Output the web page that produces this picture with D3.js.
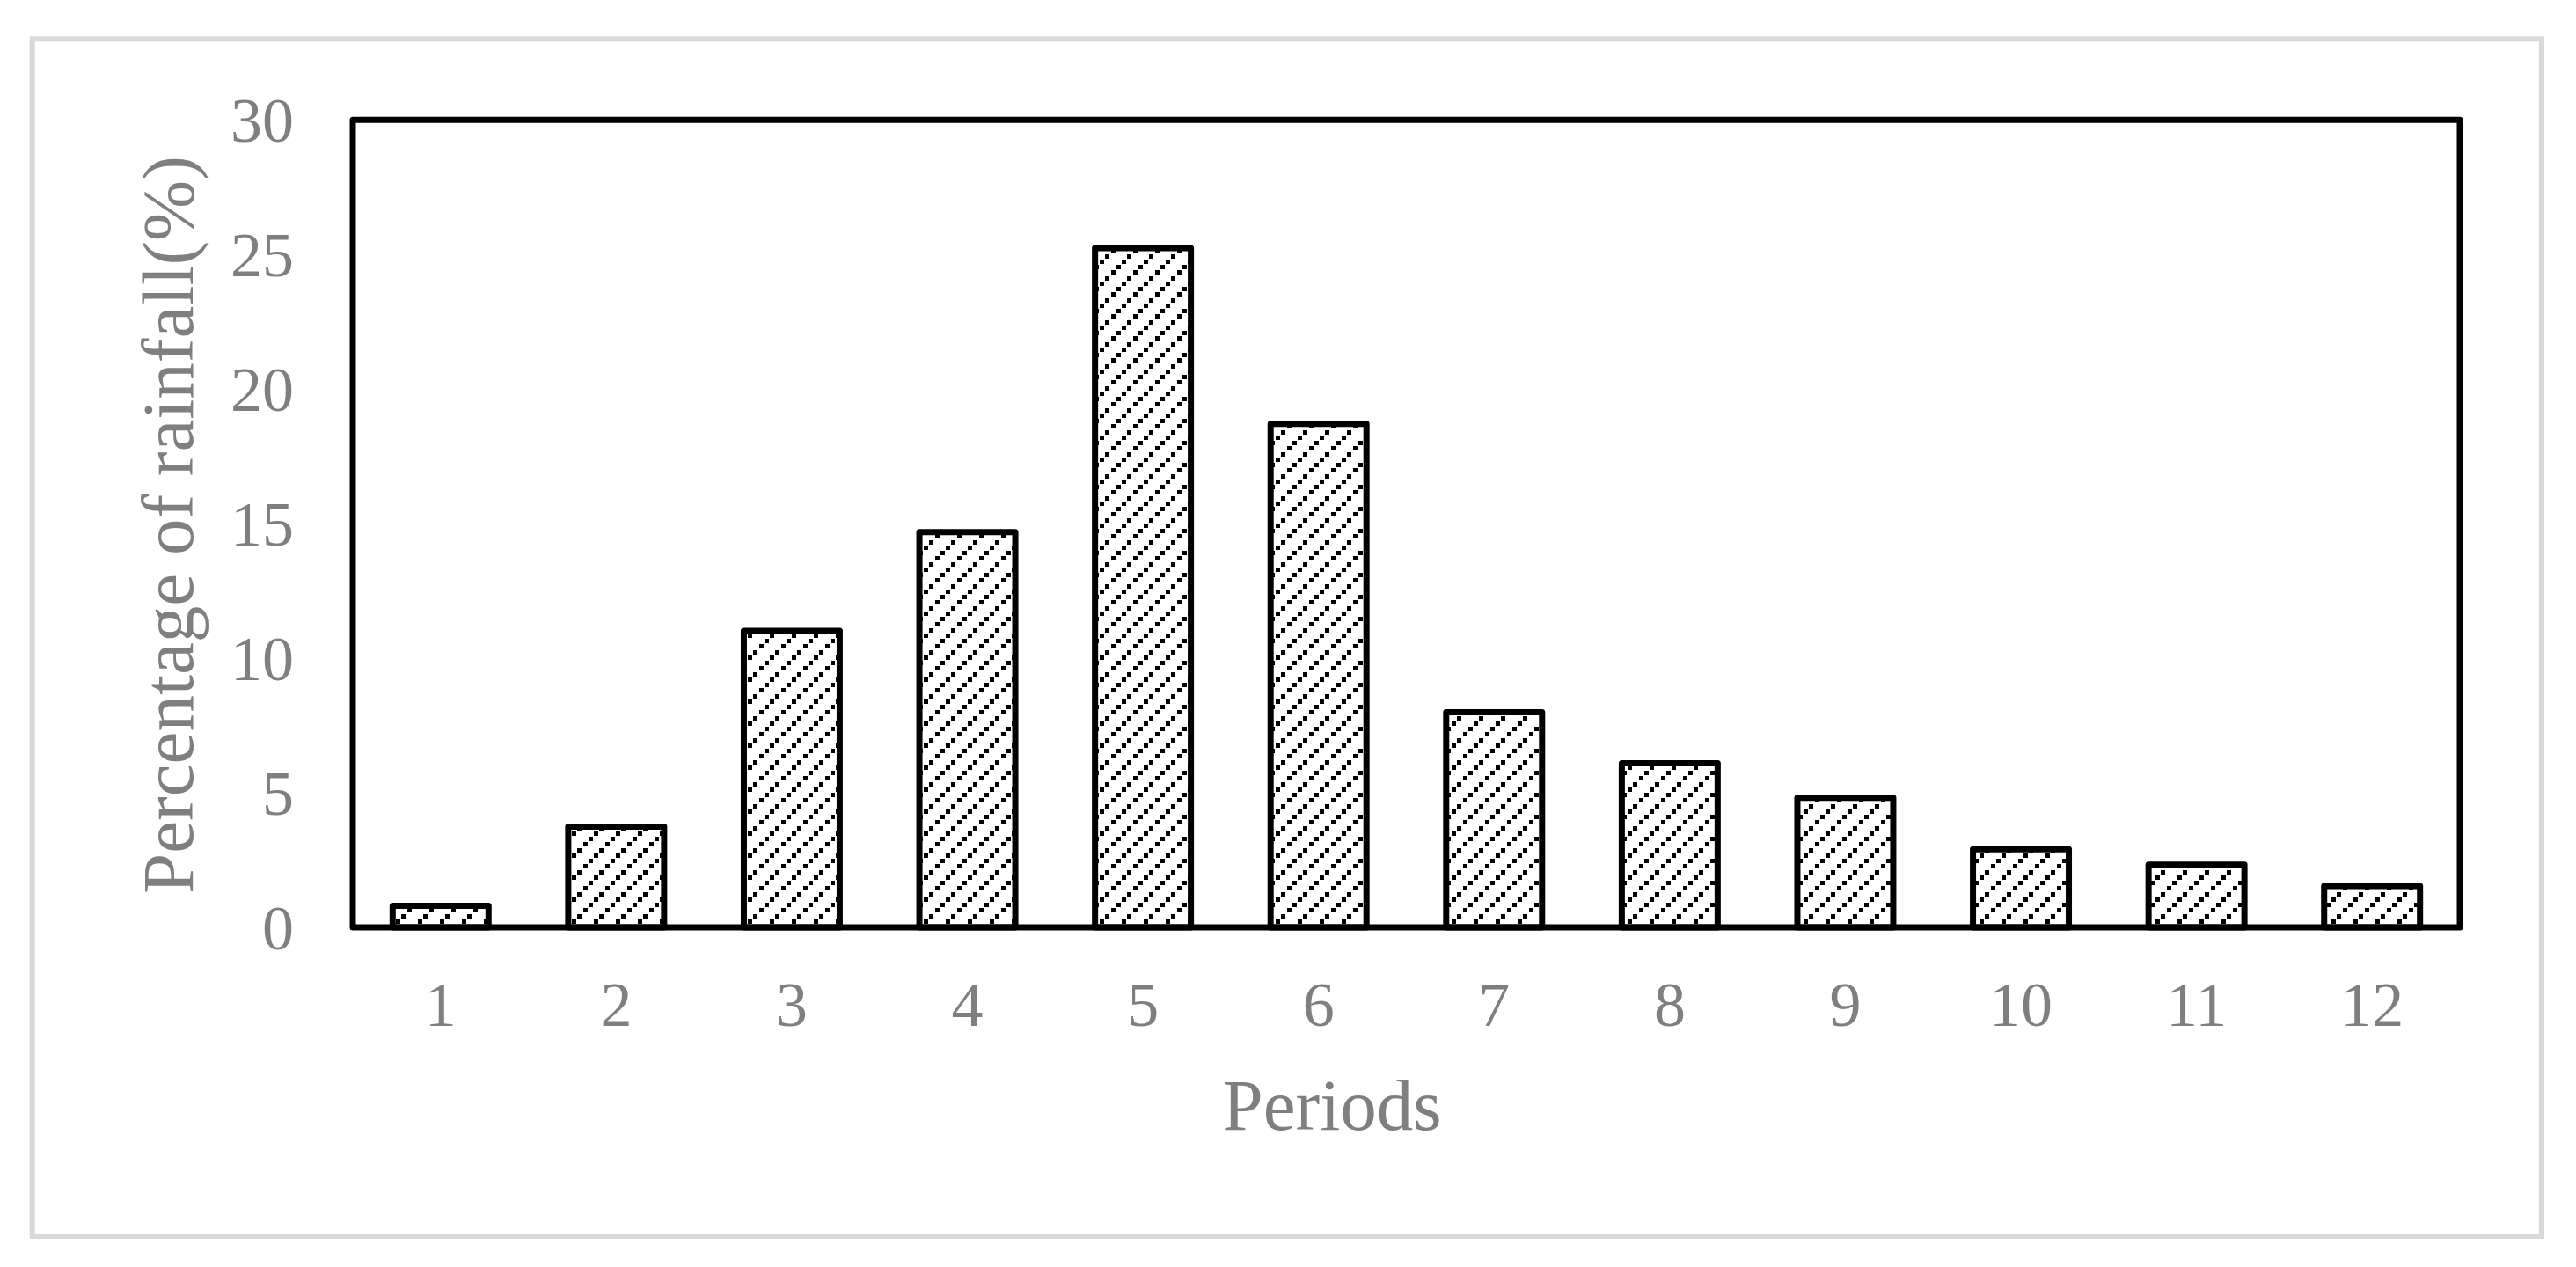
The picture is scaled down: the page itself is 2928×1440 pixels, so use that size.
<!DOCTYPE html>
<html>
<head>
<meta charset="utf-8">
<script src="https://cdn.jsdelivr.net/npm/d3@7"></script>
<style>
  html, body { margin: 0; padding: 0; background: #ffffff; }
  svg { display: block; }
</style>
</head>
<body>
<script>
const periods = ["1","2","3","4","5","6","7","8","9","10","11","12"];
const rainfallPct = [0.80, 3.74, 11.02, 14.69, 25.24, 18.71, 7.99, 6.10, 4.81, 2.90, 2.33, 1.54];
const yTicks = [0, 5, 10, 15, 20, 25, 30];
const xTitle = "Periods";
const yTitle = "Percentage of rainfall(%)";

const W = 2928, H = 1440;
const plot = { left: 401, right: 2796, top: 136.3, bottom: 1054 };
const textColor = "#7f7f7f";
const fontFam = "'Liberation Serif', 'Times New Roman', serif";

const svg = d3.select("body").append("svg")
  .attr("width", W).attr("height", H)
  .attr("viewBox", `0 0 ${W} ${H}`);

svg.append("rect").attr("width", W).attr("height", H).attr("fill", "#ffffff");

// outer chart-area border
svg.append("rect")
  .attr("x", 36.7).attr("y", 44.3)
  .attr("width", 2889 - 36.7).attr("height", 1405 - 44.3)
  .attr("fill", "none").attr("stroke", "#d9d9d9").attr("stroke-width", 6);

// hatch pattern
const defs = svg.append("defs");
const pat = defs.append("pattern")
  .attr("id", "hatch").attr("patternUnits", "userSpaceOnUse")
  .attr("width", 25).attr("height", 25);
pat.append("rect").attr("width", 25).attr("height", 25).attr("fill", "#ffffff");
[[0, 20], [6, 14], [13, 7], [19, 1]].forEach(([dx, dy]) => {
  pat.append("rect").attr("x", dx).attr("y", dy)
    .attr("width", 5).attr("height", 5).attr("fill", "#000000")
    .attr("shape-rendering", "crispEdges");
});

const x = d3.scaleBand()
  .domain(periods)
  .range([plot.left, plot.right])
  .paddingInner(0.454)
  .paddingOuter(0.227);

const y = d3.scaleLinear().domain([0, 30]).range([plot.bottom, plot.top]);

// bars
svg.append("g").selectAll("rect")
  .data(periods.map((p, i) => ({ p, v: rainfallPct[i] })))
  .join("rect")
  .attr("x", d => x(d.p))
  .attr("y", d => y(d.v))
  .attr("width", x.bandwidth())
  .attr("height", d => y(0) - y(d.v))
  .attr("fill", "url(#hatch)")
  .attr("stroke", "#000000")
  .attr("stroke-width", 7)
  .attr("stroke-linejoin", "round");

// plot frame
svg.append("rect")
  .attr("x", plot.left).attr("y", plot.top)
  .attr("width", plot.right - plot.left).attr("height", plot.bottom - plot.top)
  .attr("fill", "none").attr("stroke", "#000000").attr("stroke-width", 7)
  .attr("stroke-linejoin", "round");

// y axis
const yAxis = svg.append("g")
  .attr("transform", `translate(${plot.left},0)`)
  .call(d3.axisLeft(y).tickValues(yTicks).tickSize(0).tickPadding(67).tickFormat(d3.format("d")));
yAxis.select(".domain").remove();
yAxis.selectAll("text")
  .attr("dy", "0.34em")
  .attr("fill", textColor)
  .style("font-family", fontFam)
  .style("font-size", "72px");

// x axis
const xAxis = svg.append("g")
  .attr("transform", `translate(0,${plot.bottom})`)
  .call(d3.axisBottom(x).tickSize(0).tickPadding(61));
xAxis.select(".domain").remove();
xAxis.selectAll("text")
  .attr("fill", textColor)
  .style("font-family", fontFam)
  .style("font-size", "72px");

// axis titles
svg.append("text")
  .attr("x", 1514).attr("y", 1284)
  .attr("text-anchor", "middle")
  .attr("fill", textColor)
  .style("font-family", fontFam)
  .style("font-size", "83px")
  .text(xTitle);

svg.append("text")
  .attr("transform", `translate(219,596.5) rotate(-90)`)
  .attr("text-anchor", "middle")
  .attr("fill", textColor)
  .style("font-family", fontFam)
  .style("font-size", "83px")
  .text(yTitle);
</script>
</body>
</html>
